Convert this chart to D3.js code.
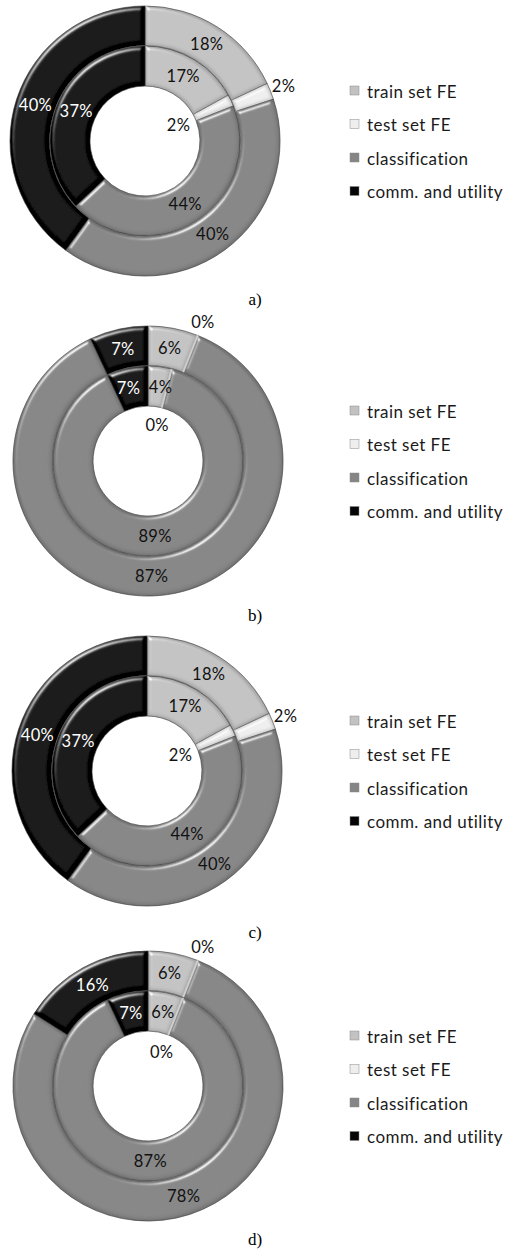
<!DOCTYPE html>
<html>
<head>
<meta charset="utf-8">
<script src="https://cdn.jsdelivr.net/npm/d3@7"></script>
<style>
  html, body { margin: 0; padding: 0; background: #fff; }
  svg { display: block; }
</style>
</head>
<body>
<svg id="chart" width="505" height="1253"></svg>
<script>
// Series names, in drawing order (clockwise from 12 o'clock)
const categories = ["train set FE", "test set FE", "classification", "comm. and utility"];
// Sub-figure captions
const captions = ["a)", "b)", "c)", "d)"];
// Outer ring shares (%) per sub-figure
const outerValues = [
  [18, 2, 40, 40],
  [6, 0, 87, 7],
  [18, 2, 40, 40],
  [6, 0, 78, 16]
];
// Inner ring shares (%) per sub-figure
const innerValues = [
  [17, 2, 44, 37],
  [4, 0, 89, 7],
  [17, 2, 44, 37],
  [6, 0, 87, 7]
];

// ---- layout & style ----
const panelCenters = [[145, 141], [148, 461], [147, 771], [148, 1086]];
const captionBaselines = [305, 621, 938, 1245];
const holeR = 55, midR = 95, outerR = 135;
const fills = ["#c2c2c2", "#eeeeee", "#858585", "#050505"];
const labelColor = d => d === 3 ? "#ffffff" : "#111111";
const uiFont = "Lato, 'Open Sans', sans-serif";
const minLabelGap = 32;

const svg = d3.select("#chart");
const defs = svg.append("defs");

// soft rounded bevel: specular highlight plus a faint shaded rim
const f = defs.append("filter").attr("id", "bevel")
  .attr("x", "-10%").attr("y", "-10%").attr("width", "120%").attr("height", "120%");
f.append("feGaussianBlur").attr("in", "SourceAlpha").attr("stdDeviation", 2).attr("result", "blur");
const spec = f.append("feSpecularLighting").attr("in", "blur")
  .attr("surfaceScale", 2.5).attr("specularConstant", 0.85).attr("specularExponent", 45)
  .attr("lighting-color", "#ffffff").attr("result", "spec");
spec.append("feDistantLight").attr("azimuth", 235).attr("elevation", 40);
f.append("feComposite").attr("in", "spec").attr("in2", "SourceAlpha").attr("operator", "in").attr("result", "specIn");
// darker rim just inside each edge
f.append("feMorphology").attr("in", "SourceAlpha").attr("operator", "erode").attr("radius", 1.5).attr("result", "eroded");
f.append("feGaussianBlur").attr("in", "eroded").attr("stdDeviation", 1.2).attr("result", "erodedBlur");
f.append("feComposite").attr("in", "SourceAlpha").attr("in2", "erodedBlur").attr("operator", "out").attr("result", "rimMask");
f.append("feFlood").attr("flood-color", "#000").attr("flood-opacity", 0.28).attr("result", "dark");
f.append("feComposite").attr("in", "dark").attr("in2", "rimMask").attr("operator", "in").attr("result", "rim");
f.append("feComposite").attr("in", "SourceGraphic").attr("in2", "specIn")
  .attr("operator", "arithmetic").attr("k1", 0).attr("k2", 1).attr("k3", 1).attr("k4", 0).attr("result", "lit");
const m = f.append("feMerge");
m.append("feMergeNode").attr("in", "lit");
m.append("feMergeNode").attr("in", "rim");

const color = d3.scaleOrdinal().domain(d3.range(categories.length)).range(fills);

const pie = d3.pie().sort(null).value(d => d).startAngle(0).endAngle(2 * Math.PI);

function drawRing(g, values, r0, r1, isOuter) {
  const arcs = pie(values).map((a, i) => Object.assign(a, { idx: i }));
  const arc = d3.arc().innerRadius(r0).outerRadius(r1);
  g.append("g").selectAll("path")
    .data(arcs.filter(a => a.value > 0))
    .join("path")
    .attr("d", arc)
    .attr("fill", a => color(a.idx))
    .attr("stroke", "#4a4a4a")
    .attr("stroke-width", 0.6)
    .attr("filter", "url(#bevel)");

  // thin separators where a zero-share slice sits
  g.append("g").selectAll("line")
    .data(arcs.filter(a => a.value === 0))
    .join("line")
    .attr("x1", a => r0 * Math.sin(a.startAngle)).attr("y1", a => -r0 * Math.cos(a.startAngle))
    .attr("x2", a => r1 * Math.sin(a.startAngle)).attr("y2", a => -r1 * Math.cos(a.startAngle))
    .attr("stroke", "#cfcfcf").attr("stroke-width", 2);

  // value labels: centroid, small shares pushed outside (outer ring) or into the hole (inner ring)
  const labelR = a => {
    if (a.value >= 3) return (r0 + r1) / 2;
    return isOuter ? r1 + 14 : r0 - 18;
  };
  arcs.forEach(a => {
    const mid = (a.startAngle + a.endAngle) / 2;
    a.lx = labelR(a) * Math.sin(mid);
    a.ly = -labelR(a) * Math.cos(mid);
  });
  // spread in-ring labels that would collide sideways
  const inRing = arcs.filter(a => a.value >= 3);
  inRing.forEach((a, i) => inRing.slice(i + 1).forEach(b => {
    const dx = b.lx - a.lx, dy = b.ly - a.ly;
    if (Math.abs(dy) < 14 && Math.abs(dx) < minLabelGap) {
      const push = (minLabelGap - Math.abs(dx)) / 2 * (dx >= 0 ? 1 : -1);
      a.lx -= push; b.lx += push;
    }
  }));

  g.append("g").selectAll("text")
    .data(arcs)
    .join("text")
    .attr("x", a => a.lx)
    .attr("y", a => a.ly)
    .attr("text-anchor", "middle")
    .attr("dominant-baseline", "central")
    .attr("font-family", uiFont)
    .attr("font-size", 16.5)
    .attr("letter-spacing", 0.3)
    .attr("fill", a => a.value >= 3 ? labelColor(a.idx) : "#111111")
    .text(a => a.value + "%");
}

panelCenters.forEach(([cx, cy], p) => {
  const g = svg.append("g").attr("transform", `translate(${cx},${cy})`);
  drawRing(g, innerValues[p], holeR, midR, false);
  drawRing(g, outerValues[p], midR + 0.5, outerR, true);

  // legend
  const y0 = cy - 51;
  const lg = svg.append("g").attr("transform", `translate(350,${y0})`);
  const items = lg.selectAll("g").data(categories).join("g")
    .attr("transform", (d, i) => `translate(0,${i * 33.5})`);
  items.append("rect")
    .attr("x", 0).attr("y", -4).attr("width", 9).attr("height", 9)
    .attr("fill", (d, i) => color(i))
    .attr("stroke", "#8a8a8a").attr("stroke-width", 0.5);
  items.append("text")
    .attr("x", 17).attr("y", 1)
    .attr("dominant-baseline", "central")
    .attr("font-family", uiFont)
    .attr("font-size", 17)
    .attr("letter-spacing", 0.45)
    .attr("fill", "#1a1a1a")
    .text(d => d);

  // caption
  svg.append("text")
    .attr("x", 255).attr("y", captionBaselines[p])
    .attr("text-anchor", "middle")
    .attr("font-family", "'Liberation Serif', 'Times New Roman', serif")
    .attr("font-size", 17)
    .attr("fill", "#000")
    .text(captions[p]);
});
</script>
</body>
</html>
